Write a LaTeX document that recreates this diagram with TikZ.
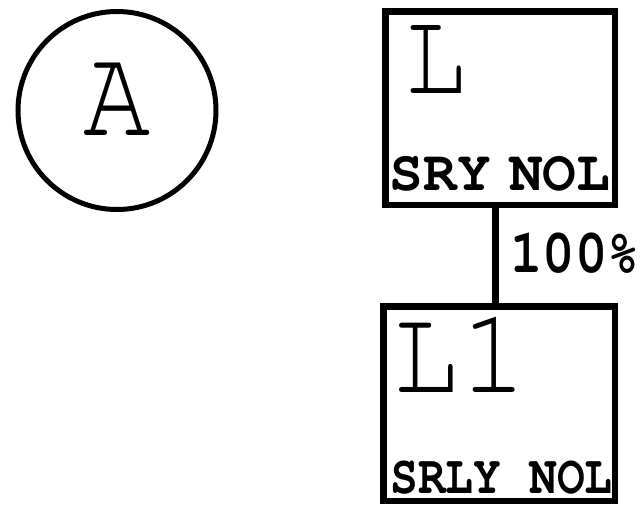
\documentclass[tikz,border=0pt]{standalone}
\usepackage[T1]{fontenc}
\newcommand{\courier}{\fontencoding{T1}\fontfamily{pcr}}
\begin{document}
\begin{tikzpicture}[x=1pt,y=-1pt,
    framebox/.style={draw, rectangle, line width=6.5pt, inner sep=0pt},
    bigtt/.style={inner sep=0pt, anchor=base, font=\courier\fontsize{#1}{#1}\selectfont},
    boldtt/.style={inner sep=0pt, anchor=base, font=\courier\bfseries\fontsize{#1}{#1}\selectfont}]
  \useasboundingbox (0,0) rectangle (642,504);

  % Circle A
  \node[draw, circle, line width=5pt, minimum size=198pt, inner sep=0pt] (A) at (117,110.5) {};
  \node[bigtt=112, yscale=1.15] (Atxt) at (117.5,135) {A};

  % Boxes L and L1
  \node[framebox, minimum width=229.5pt, minimum height=193.5pt] (boxL) at (500,108) {};
  \node[framebox, minimum width=231.5pt, minimum height=194.5pt] (boxLone) at (499,403.5) {};

  % Labels in the boxes
  \node[bigtt=105, yscale=1.15, text height=55pt, text depth=0pt] (Ltxt) at (435.5,93) {L};
  \node[boldtt=52, xscale=1.08, yscale=1.1] (Lname) at (500,190) {SRY\kern-14pt\ NOL};
  \node[bigtt=112, yscale=1.1, text height=60pt, text depth=0pt] (Lonetxt) at (460,392) {L1};
  \node[boldtt=52, xscale=0.89, yscale=1.05] (Lonename) at (501.5,493) {SRLY NOL};

  % Link between L and L1
  \draw[line width=7pt] ([xshift=-5pt]boxL.south) -- ([xshift=-5pt]boxL.south |- boxLone.north);
  \node[boldtt=54, yscale=1.15] (pct) at (575,272) {100\%};
\end{tikzpicture}
\end{document}
